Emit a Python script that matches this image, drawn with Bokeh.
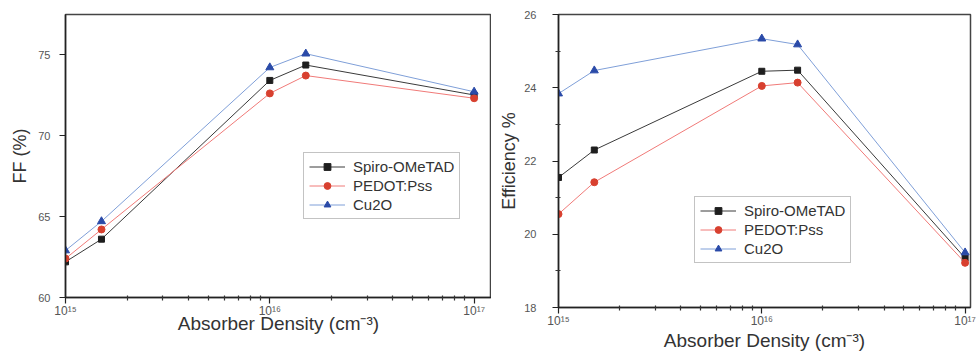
from bokeh.plotting import figure
from bokeh.layouts import row
from bokeh.models import (FixedTicker, CustomJSTickFormatter, Legend, LegendItem, Range1d)
from bokeh.embed import file_html
from bokeh.resources import INLINE

# ---- data ----
density = [1e15, 1.5e15, 1e16, 1.5e16, 1e17]
ff_spiro = [62.2, 63.6, 73.4, 74.35, 72.5]
ff_pedot = [62.4, 64.2, 72.6, 73.7, 72.3]
ff_cu2o = [62.9, 64.7, 74.2, 75.05, 72.7]
eff_spiro = [21.55, 22.3, 24.45, 24.48, 19.35]
eff_pedot = [20.55, 21.42, 24.05, 24.14, 19.22]
eff_cu2o = [23.84, 24.47, 25.34, 25.18, 19.5]
series_names = ["Spiro-OMeTAD", "PEDOT:Pss", "Cu2O"]
x_major = [1e15, 1e16, 1e17]
x_minor = [k * 1e15 for k in range(2, 10)] + [k * 1e16 for k in range(2, 10)]
ff_ticks = [60, 65, 70, 75]
eff_ticks = [18, 20, 22, 24, 26]
eff_minor = [19, 21, 23, 25]
x_title = "Absorber Density (cm\u207b\u00b3)"

FONT = "Liberation Sans"
line_cols = ["#3a3a3a", "#f07a78", "#7f9fd8"]
mark_cols = ["#1e1e1e", "#d8402f", "#2a4aa8"]
markers = ["square", "circle", "triangle"]
msizes = [6, 7, 8]

sup_js = """
const sup = {"0":"\u2070","1":"\u00b9","2":"\u00b2","3":"\u00b3","4":"\u2074","5":"\u2075","6":"\u2076","7":"\u2077","8":"\u2078","9":"\u2079"};
const e = Math.round(Math.log10(tick));
return "10" + String(e).split("").map(c => sup[c]).join("");
"""


def style(p, yticks, yminor, ylabel, xstandoff, ystandoff, ylabstandoff):
    p.xaxis.ticker = FixedTicker(ticks=x_major, minor_ticks=x_minor)
    p.xaxis.formatter = CustomJSTickFormatter(code=sup_js)
    p.yaxis.ticker = FixedTicker(ticks=yticks, minor_ticks=yminor)
    p.xgrid.grid_line_color = None
    p.ygrid.grid_line_color = None
    p.outline_line_color = "#444444"
    p.outline_line_width = 1.5
    for ax in (p.xaxis[0], p.yaxis[0]):
        ax.axis_line_color = "#222222"
        ax.axis_line_width = 1.5
        ax.major_tick_line_color = "#222222"
        ax.major_tick_line_width = 1.2
        ax.minor_tick_line_color = "#333333"
        ax.minor_tick_line_width = 1.2
        ax.major_tick_out = 6
        ax.major_tick_in = 0
        ax.minor_tick_out = 3
        ax.minor_tick_in = 2
        ax.major_label_text_font = FONT
        ax.major_label_text_font_size = "11px"
        ax.major_label_text_color = "#555555"
        ax.axis_label_text_font = FONT
        ax.axis_label_text_font_style = "normal"
        ax.axis_label_text_color = "#333333"
    p.xaxis.major_label_text_font_size = "12px"
    p.xaxis.axis_label = x_title
    p.xaxis.axis_label_text_font_size = "19px"
    p.xaxis.major_label_standoff = 0
    p.xaxis.axis_label_standoff = xstandoff
    p.yaxis.axis_label = ylabel
    p.yaxis.axis_label_text_font_size = "18px"
    p.yaxis.major_label_standoff = ystandoff
    p.yaxis.axis_label_standoff = ylabstandoff


def add_series(p, ys, legend_xy):
    items = []
    for name, y, lc, mc, mk, ms in zip(series_names, ys, line_cols, mark_cols, markers, msizes):
        l = p.line(density, y, line_color=lc, line_width=1)
        s = p.scatter(density, y, marker=mk, size=ms, fill_color=mc, line_color=mc)
        items.append(LegendItem(label=name, renderers=[l, s]))
    leg = Legend(items=items, location=legend_xy)
    leg.label_text_font = FONT
    leg.label_text_font_size = "15px"
    leg.label_text_color = "#333333"
    leg.glyph_width = 36
    leg.glyph_height = 17
    leg.label_height = 17
    leg.label_standoff = 8
    leg.spacing = 2
    leg.padding = 5
    leg.margin = 0
    leg.border_line_color = "#888888"
    leg.border_line_width = 1.5
    leg.background_fill_color = "white"
    leg.background_fill_alpha = 1
    p.add_layout(leg, "center")


p1 = figure(x_axis_type="log", output_backend="svg", toolbar_location=None,
            frame_width=426, frame_height=283,
            min_border_left=65, min_border_right=0, min_border_top=14, min_border_bottom=56,
            x_range=Range1d(1e15, 10 ** 17.085), y_range=Range1d(60, 77.47))
style(p1, ff_ticks, [], "FF (%)", -8, 9, 5)
p1.yaxis.minor_tick_line_color = None
add_series(p1, [ff_spiro, ff_pedot, ff_cu2o], (238, 78))

p2 = figure(x_axis_type="log", output_backend="svg", toolbar_location=None,
            frame_width=412, frame_height=293,
            min_border_left=67, min_border_right=8, min_border_top=12, min_border_bottom=48,
            x_range=Range1d(1e15, 10 ** (15 + 412 / 203.3)), y_range=Range1d(18, 26))
style(p2, eff_ticks, eff_minor, "Efficiency %", -1, 16, 2)
add_series(p2, [eff_spiro, eff_pedot, eff_cu2o], (136, 44))

layout = row(p1, p2, spacing=0)
open("out.html", "w").write(file_html(layout, INLINE))
